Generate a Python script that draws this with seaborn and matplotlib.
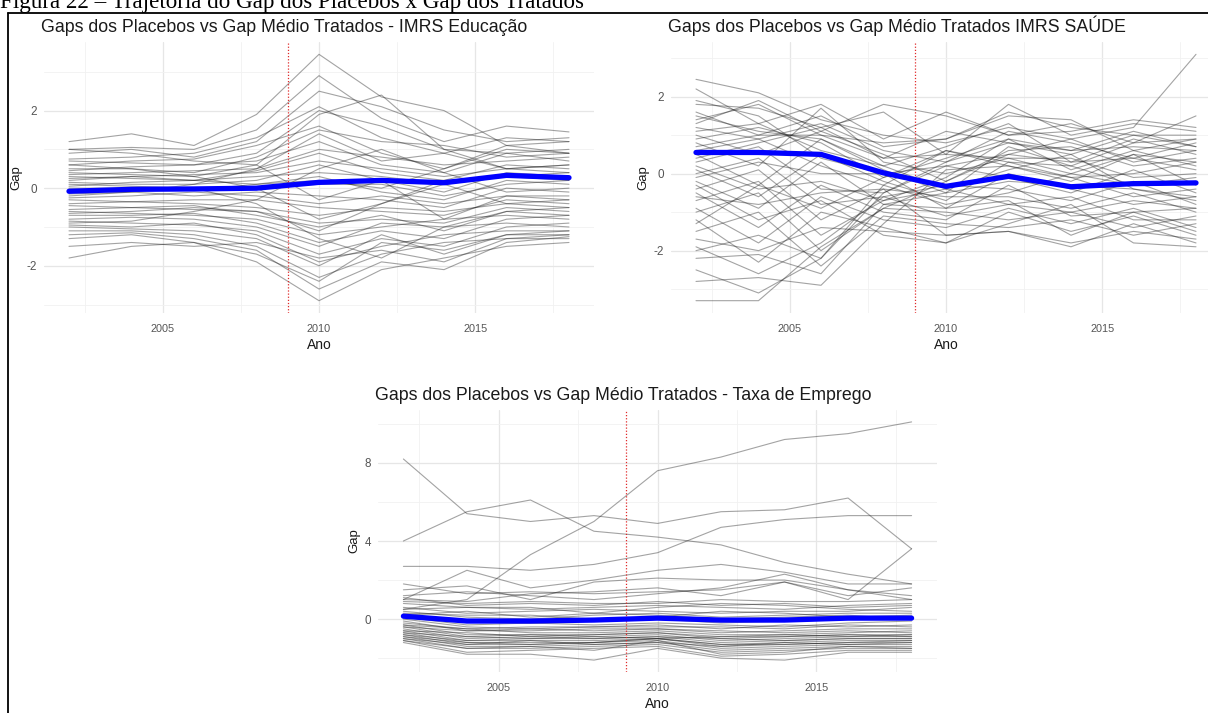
import numpy as np
import pandas as pd
import matplotlib
matplotlib.use("Agg")
import matplotlib.pyplot as plt
from matplotlib.lines import Line2D
from matplotlib.ticker import FixedLocator
import seaborn as sns

# ---------------- data ----------------
years = [2002, 2004, 2006, 2008, 2010, 2012, 2014, 2016, 2018]
treat_year = 2009

edu_mean = [-0.08, -0.03, -0.02, 0.0, 0.15, 0.2, 0.14, 0.33, 0.27]
edu_placebos = [
    [1.2, 1.4, 1.1, 1.9, 3.45, 2.35, 2.0, 1.1, 1.2],
    [1.0, 1.05, 1.0, 1.5, 2.9, 1.8, 1.2, 1.6, 1.45],
    [0.9, 1.0, 0.8, 1.2, 2.5, 2.1, 1.5, 1.2, 1.3],
    [0.75, 0.8, 0.9, 1.3, 2.1, 1.3, 0.9, 1.3, 1.2],
    [0.7, 0.65, 0.6, 0.9, 2.0, 1.6, 1.0, 0.9, 1.0],
    [0.6, 0.7, 0.75, 1.1, 1.6, 0.9, 0.5, 1.1, 0.9],
    [0.5, 0.5, 0.4, 0.8, 1.5, 1.2, 1.1, 0.8, 0.9],
    [0.45, 0.55, 0.6, 0.7, 1.2, 0.6, 0.4, 0.9, 0.7],
    [0.35, 0.4, 0.45, 0.5, 1.0, 0.8, 0.6, 0.7, 0.8],
    [0.3, 0.25, 0.2, 0.45, 0.9, 0.4, 0.2, 0.6, 0.5],
    [0.2, 0.3, 0.35, 0.4, 0.7, 0.5, 0.3, 0.5, 0.6],
    [0.15, 0.1, 0.1, 0.2, 0.6, 0.2, -0.1, 0.4, 0.3],
    [0.05, 0.15, 0.2, 0.3, 0.4, 0.3, 0.1, 0.3, 0.4],
    [0.0, 0.0, -0.05, 0.1, 0.3, -0.1, -0.3, 0.2, 0.1],
    [-0.1, -0.05, 0.0, 0.0, 0.1, 0.1, -0.2, 0.1, 0.2],
    [-0.15, -0.1, -0.2, -0.1, -0.2, -0.3, -0.5, 0.0, -0.1],
    [-0.25, -0.2, -0.1, -0.2, -0.4, -0.2, -0.4, -0.2, -0.2],
    [-0.3, -0.35, -0.3, -0.3, -0.5, -0.6, -0.7, -0.3, -0.4],
    [-0.4, -0.35, -0.4, -0.5, -0.7, -0.5, -0.6, -0.4, -0.3],
    [-0.45, -0.5, -0.55, -0.6, -0.9, -0.8, -0.9, -0.5, -0.6],
    [-0.55, -0.5, -0.45, -0.7, -1.0, -0.7, -1.1, -0.6, -0.5],
    [-0.6, -0.65, -0.7, -0.8, -1.2, -1.0, -0.8, -0.7, -0.8],
    [-0.7, -0.7, -0.65, -0.9, -1.4, -1.1, -1.3, -0.8, -0.7],
    [-0.8, -0.75, -0.8, -1.0, -1.5, -0.9, -1.0, -0.9, -1.0],
    [-0.85, -0.9, -0.95, -1.1, -1.7, -1.3, -1.5, -1.0, -0.9],
    [-0.95, -1.0, -0.9, -1.2, -1.9, -1.5, -1.2, -1.1, -1.1],
    [-1.0, -1.05, -1.1, -1.3, -2.0, -1.2, -1.7, -1.2, -1.2],
    [-1.1, -1.1, -1.2, -1.5, -2.3, -1.7, -1.4, -1.3, -1.3],
    [-1.2, -1.15, -1.3, -1.6, -2.6, -1.9, -2.1, -1.4, -1.25],
    [-1.3, -1.2, -1.4, -1.9, -2.9, -2.1, -1.8, -1.5, -1.4],
    [-1.8, -1.5, -1.4, -1.7, -2.4, -1.4, -1.6, -1.2, -1.1],
    [-1.5, -1.4, -1.5, -1.4, -1.8, -1.6, -1.9, -1.3, -1.2],
    [0.6, 0.5, 0.3, 0.0, -0.8, -0.4, 0.2, 0.3, 0.2],
    [-0.2, -0.1, 0.1, 0.5, 1.4, 0.7, 0.9, 0.5, 0.4],
    [0.4, 0.35, 0.3, 0.6, -0.3, 0.2, -0.8, -0.2, -0.3],
    [-0.9, -0.85, -0.6, -0.3, 0.5, 1.0, 0.4, -0.1, 0.0],
    [0.1, 0.05, 0.0, -0.4, -1.3, -1.8, -1.0, -0.6, -0.7],
    [1.0, 0.9, 0.7, 0.6, 1.9, 2.4, 1.0, 0.5, 0.6],
    [-0.65, -0.6, -0.5, -0.6, -1.1, -0.4, 0.1, -0.4, -0.5],
    [0.25, 0.3, 0.2, 0.1, 0.2, 0.0, 0.5, 1.0, 0.9],
]

sau_mean = [0.55, 0.55, 0.5, 0.02, -0.33, -0.07, -0.34, -0.26, -0.24]
sau_placebos = [
    [2.45, 2.1, 1.4, 1.0, 0.8, 1.2, 0.9, 1.2, 3.1],
    [2.2, 1.3, 1.8, 0.9, 1.6, 1.0, 1.3, 0.8, 1.5],
    [1.8, 1.7, 1.2, 1.6, 0.5, 1.8, 1.0, 1.3, 1.1],
    [1.6, 1.0, 1.5, 0.7, 0.9, 1.5, 1.4, 0.6, 0.9],
    [1.4, 1.8, 1.0, 0.4, 1.1, 0.8, 0.5, 1.0, 0.7],
    [1.2, 0.9, 1.3, 0.6, 0.3, 1.1, 0.8, 0.4, 0.8],
    [1.1, 1.3, 0.6, 0.2, 0.7, 1.3, 0.3, 0.9, 0.5],
    [1.0, 0.5, 1.1, 0.5, -0.2, 0.6, 0.7, 0.2, 0.4],
    [0.9, 1.2, 0.8, -0.1, 0.4, 0.9, 0.1, 0.6, 0.2],
    [0.8, 0.2, 1.7, 0.3, 0.0, 0.4, 0.4, -0.1, 0.0],
    [0.6, 0.9, 0.2, -0.3, 0.6, 0.2, -0.2, 0.5, -0.3],
    [0.5, -0.3, 0.9, 0.1, -0.5, 0.7, 0.2, -0.3, -0.1],
    [0.3, 0.7, -0.4, -0.5, 0.2, -0.1, -0.5, 0.1, -0.5],
    [0.1, -0.6, 0.5, -0.2, -0.7, 0.3, -0.1, -0.6, -0.4],
    [0.0, 0.4, -0.8, -0.6, -0.3, -0.4, -0.7, -0.2, -0.8],
    [-0.2, -0.9, 0.3, -0.8, -0.9, 0.0, -0.4, -0.8, -0.6],
    [-0.4, 0.1, -1.2, -0.4, -0.6, -0.6, -0.9, -0.5, -1.0],
    [-0.5, -1.4, -0.3, -1.0, -1.2, -0.3, -1.1, -1.0, -0.9],
    [-0.7, -0.2, -1.6, -0.7, -0.4, -0.8, -0.6, -1.2, -1.2],
    [-0.9, -1.8, -0.6, -1.2, -1.4, -0.9, -1.3, -0.9, -1.4],
    [-1.0, -0.5, -2.0, -0.9, -1.0, -1.2, -1.0, -1.4, -1.1],
    [-1.2, -2.3, -1.0, -1.4, -1.8, -1.0, -1.5, -1.1, -1.6],
    [-1.5, -1.0, -2.4, -1.1, -1.3, -1.4, -1.2, -1.6, -1.3],
    [-1.7, -2.0, -1.4, -1.5, -1.6, -1.5, -1.9, -1.3, -1.8],
    [-1.9, -2.6, -1.8, -0.6, -1.1, -0.8, -1.0, -0.7, -0.9],
    [-2.2, -2.1, -2.6, -0.8, -0.5, -0.2, -0.3, -0.4, -0.6],
    [-2.5, -3.1, -2.2, -0.3, -0.8, -0.5, 0.0, -0.3, -0.2],
    [-2.8, -2.7, -2.9, -1.3, 0.1, 0.2, -0.1, 0.0, 0.3],
    [-3.3, -3.3, -1.9, -0.9, -0.2, 0.5, 0.3, 0.4, 0.1],
    [-2.0, -1.6, -2.2, -0.5, 0.3, 0.8, 0.6, 0.7, 0.6],
    [1.3, 1.9, 1.1, 1.8, 1.5, 1.0, 1.1, 1.4, 1.2],
    [0.7, 1.0, 1.0, 0.8, 0.9, 1.6, 1.2, 1.0, 1.0],
    [-0.1, 0.3, 0.0, 0.0, 0.2, 0.5, 0.9, 0.3, 0.6],
    [0.4, 0.8, 1.2, 0.4, 0.5, 0.4, 0.0, 0.5, 0.3],
    [-0.6, -0.8, -0.5, -0.4, -1.6, -1.5, -1.8, -1.5, -1.7],
    [1.5, 1.1, 0.9, 0.2, -0.4, 0.1, 0.5, -0.4, -0.7],
    [-1.3, -0.3, -0.9, -0.1, 0.6, 0.3, 0.2, 0.8, 0.9],
    [0.2, -0.4, -0.2, -0.7, -0.1, 0.9, 0.6, 1.1, 0.7],
    [1.9, 1.5, 0.4, 0.0, -0.9, -0.7, -1.6, -1.0, -1.5],
    [-0.3, -1.2, -0.7, -1.6, -1.8, -1.3, -0.8, -1.8, -1.9],
]

emp_mean = [0.15, -0.1, -0.1, -0.05, 0.05, -0.05, -0.05, 0.05, 0.05]
emp_placebos = [
    [8.2, 5.4, 5.0, 5.3, 4.9, 5.5, 5.6, 6.2, 3.6],
    [4.0, 5.5, 6.1, 4.5, 4.2, 3.8, 2.9, 2.3, 1.8],
    [0.5, 1.0, 3.3, 5.0, 7.6, 8.3, 9.2, 9.5, 10.1],
    [2.7, 2.7, 2.5, 2.8, 3.4, 4.7, 5.1, 5.3, 5.3],
    [1.0, 2.5, 1.6, 2.0, 2.5, 2.8, 2.4, 1.8, 1.8],
    [1.8, 1.3, 1.4, 1.3, 1.4, 1.5, 1.9, 1.0, 3.6],
    [1.5, 1.7, 1.0, 1.9, 2.1, 2.0, 2.0, 1.5, 1.2],
    [1.2, 1.4, 1.2, 1.0, 1.3, 1.6, 2.3, 1.5, 1.0],
    [1.0, 0.9, 1.3, 1.4, 1.6, 1.2, 1.9, 1.2, 1.6],
    [0.9, 0.8, 0.9, 0.8, 0.8, 1.0, 0.9, 0.9, 1.0],
    [0.8, 0.6, 0.5, 0.6, 0.7, 0.6, 0.5, 0.7, 0.8],
    [0.6, 0.3, 0.4, 0.5, 0.4, 0.3, 0.4, 0.4, 0.6],
    [0.5, 0.6, 0.6, 0.3, 0.6, 0.8, 0.7, 0.5, 0.4],
    [0.4, 0.1, 0.0, 0.2, 0.3, 0.1, 0.2, 0.3, 0.3],
    [0.3, 0.2, 0.2, 0.0, 0.1, 0.4, 0.3, 0.1, 0.2],
    [0.2, -0.1, -0.2, -0.1, 0.0, -0.2, -0.1, 0.0, 0.1],
    [0.1, -0.3, -0.2, -0.3, -0.2, -0.3, -0.4, -0.2, -0.1],
    [0.0, -0.4, -0.5, -0.4, -0.3, -0.5, -0.3, -0.4, -0.3],
    [-0.1, -0.6, -0.6, -0.5, -0.5, -0.7, -0.6, -0.5, -0.5],
    [-0.2, -0.5, -0.7, -0.7, -0.6, -0.8, -0.8, -0.7, -0.6],
    [-0.3, -0.8, -0.8, -0.8, -0.7, -0.9, -0.9, -0.8, -0.8],
    [-0.4, -0.9, -1.0, -0.9, -0.8, -1.1, -1.0, -0.9, -0.9],
    [-0.5, -1.0, -0.9, -1.0, -0.9, -1.2, -1.1, -1.0, -1.0],
    [-0.6, -1.1, -1.1, -1.1, -1.0, -1.3, -1.2, -1.1, -1.1],
    [-0.7, -1.2, -1.2, -1.2, -1.0, -1.4, -1.3, -1.2, -1.2],
    [-0.8, -1.3, -1.3, -1.2, -1.1, -1.5, -1.4, -1.3, -1.3],
    [-0.9, -1.4, -1.4, -1.3, -1.2, -1.6, -1.5, -1.4, -1.4],
    [-1.0, -1.5, -1.5, -1.4, -1.3, -1.7, -1.6, -1.5, -1.5],
    [-1.1, -1.7, -1.6, -1.5, -1.4, -1.9, -1.8, -1.6, -1.6],
    [-1.2, -1.8, -1.8, -2.1, -1.5, -2.0, -2.1, -1.7, -1.7],
    [-0.7, -0.9, -0.8, -0.9, -1.0, -0.9, -0.8, -0.9, -0.8],
    [-0.8, -1.1, -1.0, -1.0, -0.9, -1.0, -1.1, -1.0, -1.0],
    [-0.6, -0.7, -0.9, -0.8, -0.7, -1.0, -0.9, -0.8, -0.9],
    [-0.9, -1.2, -1.3, -1.2, -1.0, -1.3, -1.3, -1.2, -1.1],
    [-0.4, -0.6, -0.5, -0.6, -0.5, -0.6, -0.7, -0.6, -0.7],
    [-1.0, -1.3, -1.1, -1.3, -1.2, -1.4, -1.2, -1.3, -1.2],
    [-0.3, -0.5, -0.4, -0.4, -0.4, -0.4, -0.5, -0.3, -0.4],
    [0.2, 0.4, 0.1, 0.3, 0.2, 0.0, 0.1, 0.2, 0.0],
    [1.1, 0.7, 0.8, 0.7, 0.9, 0.7, 0.8, 0.6, 0.7],
    [-1.1, -1.5, -1.4, -1.6, -1.1, -1.8, -1.7, -1.4, -1.5],
]

titles = [
    "Gaps dos Placebos vs Gap Médio Tratados - IMRS Educação",
    "Gaps dos Placebos vs Gap Médio Tratados IMRS SAÚDE",
    "Gaps dos Placebos vs Gap Médio Tratados - Taxa de Emprego",
]
caption = "Figura 22 – Trajetória do Gap dos Placebos x Gap dos Tratados"
x_ticks = [2005, 2010, 2015]
y_ticks = [[-2, 0, 2], [-2, 0, 2], [0, 4, 8]]
y_minor = [[-3, -1, 1, 3], [-3, -1, 1, 3], [-2, 2, 6, 10]]

# ---------------- style ----------------
sns.set_theme(style="white")
plt.rcParams["font.family"] = ["Liberation Sans", "DejaVu Sans"]
plt.rcParams["axes.unicode_minus"] = False

W, H = 1208, 713
fig = plt.figure(figsize=(W / 100, H / 100), dpi=100)
fig.patch.set_facecolor("white")

# panel boxes in pixels: left, top, right, bottom
boxes = [(44, 42, 594, 313), (671, 42, 1221, 313), (378, 410, 937, 672)]
panels = [(edu_placebos, edu_mean), (sau_placebos, sau_mean), (emp_placebos, emp_mean)]

for i, ((l, t, r, b), (plac, mean)) in enumerate(zip(boxes, panels)):
    ax = fig.add_axes([l / W, 1 - b / H, (r - l) / W, (b - t) / H])
    rows = []
    for u, series in enumerate(plac):
        for yr, v in zip(years, series):
            rows.append({"Ano": yr, "Gap": v, "unit": u})
    df = pd.DataFrame(rows)
    sns.lineplot(data=df, x="Ano", y="Gap", units="unit", estimator=None,
                 color="#1a1a1a", alpha=0.4, linewidth=0.8, ax=ax, legend=False)
    dm = pd.DataFrame({"Ano": years, "Gap": mean})
    sns.lineplot(data=dm, x="Ano", y="Gap", color="#0000ff", linewidth=3.8,
                 ax=ax, legend=False, zorder=5)
    ax.axvline(treat_year, color="#e02a2a", linestyle=(0, (1, 1.5)),
               linewidth=0.9, zorder=4)

    allv = np.array(plac + [mean])
    lo, hi = allv.min(), allv.max()
    pad = 0.05 * (hi - lo)
    ax.set_ylim(lo - pad, hi + pad)
    ax.set_xlim(2001.2, 2018.8)

    ax.xaxis.set_major_locator(FixedLocator(x_ticks))
    ax.xaxis.set_minor_locator(FixedLocator([2002.5, 2007.5, 2012.5, 2017.5]))
    ax.yaxis.set_major_locator(FixedLocator(y_ticks[i]))
    ax.yaxis.set_minor_locator(FixedLocator(y_minor[i]))
    ax.grid(which="major", color="#e6e6e6", linewidth=0.9, zorder=0)
    ax.grid(which="minor", color="#f1f1f1", linewidth=0.6, zorder=0)
    ax.set_axisbelow(True)
    for s in ax.spines.values():
        s.set_visible(False)
    ax.tick_params(which="both", length=0)
    ax.tick_params(axis="x", labelsize=7.8, labelcolor="#555555", pad=8)
    ax.tick_params(axis="y", labelsize=8.4, labelcolor="#555555", pad=5)
    ax.set_xlabel("Ano", fontsize=10, color="#1a1a1a", labelpad=3)
    ax.set_ylabel("Gap", fontsize=9.5, color="#1a1a1a", labelpad=3)
    ax.set_title(titles[i], loc="left", fontsize=12.8, color="#1a1a1a", pad=7, x=-0.005)

# caption (partly cut by the top edge, as in the source page)
fig.text(0.0, 1 - 8 / H, caption, ha="left", va="baseline",
         fontsize=16.6, family=["Liberation Serif", "DejaVu Serif"], color="black")

# frame lines
fig.add_artist(Line2D([8 / W, 1.0], [1 - 13 / H, 1 - 13 / H], transform=fig.transFigure,
                      color="black", linewidth=1.3))
fig.add_artist(Line2D([8 / W, 8 / W], [1 - 13 / H, 0.0], transform=fig.transFigure,
                      color="black", linewidth=1.3))

fig.savefig("out.png", dpi=100)
